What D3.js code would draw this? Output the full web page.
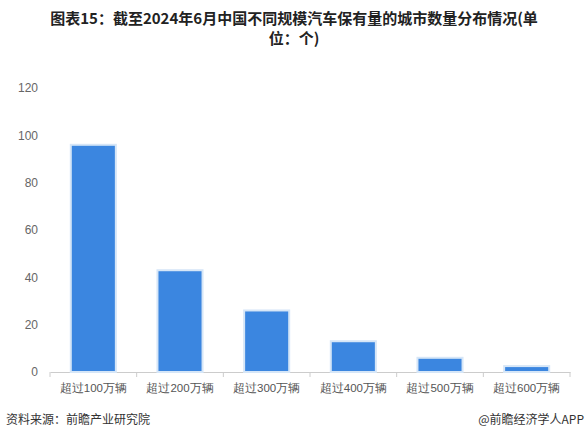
<!DOCTYPE html>
<html><head><meta charset="utf-8">
<script src="https://cdn.jsdelivr.net/npm/d3@7"></script>
<style>body{margin:0;background:#fff;font-family:"Noto Sans CJK SC",sans-serif}</style>
</head><body>
<script>
const categories = ["超过100万辆", "超过200万辆", "超过300万辆", "超过400万辆", "超过500万辆", "超过600万辆"];
const values = [96, 43, 26, 13, 6, 2.5];
const yTicks = [0, 20, 40, 60, 80, 100, 120];

const width = 588, height = 441;
const margin = { top: 88, right: 18, bottom: 69, left: 50 };

let svg = d3.select("body").append("svg").attr("width", width).attr("height", height);

svg.append("text").attr("x", 294).attr("y", 24).attr("text-anchor", "middle")
  .style("font-size", "15px").style("font-weight", "bold").attr("fill", "#222")
  .text("图表15：截至2024年6月中国不同规模汽车保有量的城市数量分布情况(单");
svg.append("text").attr("x", 294).attr("y", 44).attr("text-anchor", "middle")
  .style("font-size", "15px").style("font-weight", "bold").attr("fill", "#222")
  .text("位：个)");

let xScale = d3.scaleBand().domain(categories)
  .range([margin.left, width - margin.right]).paddingInner(0.48).paddingOuter(0.24);
let yScale = d3.scaleLinear().domain([0, 120]).range([height - margin.bottom, margin.top]);

let leftAxis = d3.axisLeft(yScale).tickValues(yTicks).tickSize(0).tickPadding(10);
svg.append("g").attr("transform", `translate(${margin.left - 2},0)`).call(leftAxis)
  .call(g => g.select(".domain").remove())
  .selectAll("text").style("font-size", "12px").attr("fill", "#666")
  .style("font-family", "Arial, sans-serif");

let bottomAxis = d3.axisBottom(xScale).tickSize(0).tickPadding(12);
let bx = svg.append("g").attr("transform", `translate(0,${yScale(0)})`).call(bottomAxis);
bx.select(".domain").attr("stroke", "#ccc");
bx.selectAll("text").style("font-size", "11.5px").attr("fill", "#555");
bx.selectAll(".sep").data(d3.range(categories.length + 1)).join("line")
  .attr("x1", i => margin.left + i * (width - margin.left - margin.right) / categories.length)
  .attr("x2", i => margin.left + i * (width - margin.left - margin.right) / categories.length)
  .attr("y1", 0).attr("y2", 5).attr("stroke", "#ccc");

svg.selectAll("rect.bar").data(values).join("rect").attr("class", "bar")
  .attr("x", (d, i) => xScale(categories[i]))
  .attr("y", d => yScale(d))
  .attr("width", xScale.bandwidth())
  .attr("height", d => yScale(0) - yScale(d))
  .attr("fill", "#3b86e0").attr("stroke", "#d6e6f7").attr("stroke-width", 2);

svg.append("text").attr("x", 6).attr("y", 424).style("font-size", "12px").attr("fill", "#333")
  .text("资料来源：前瞻产业研究院");
svg.append("text").attr("x", 584).attr("y", 424).attr("text-anchor", "end")
  .style("font-size", "12px").attr("fill", "#333").text("@前瞻经济学人APP");
</script>
</body></html>
